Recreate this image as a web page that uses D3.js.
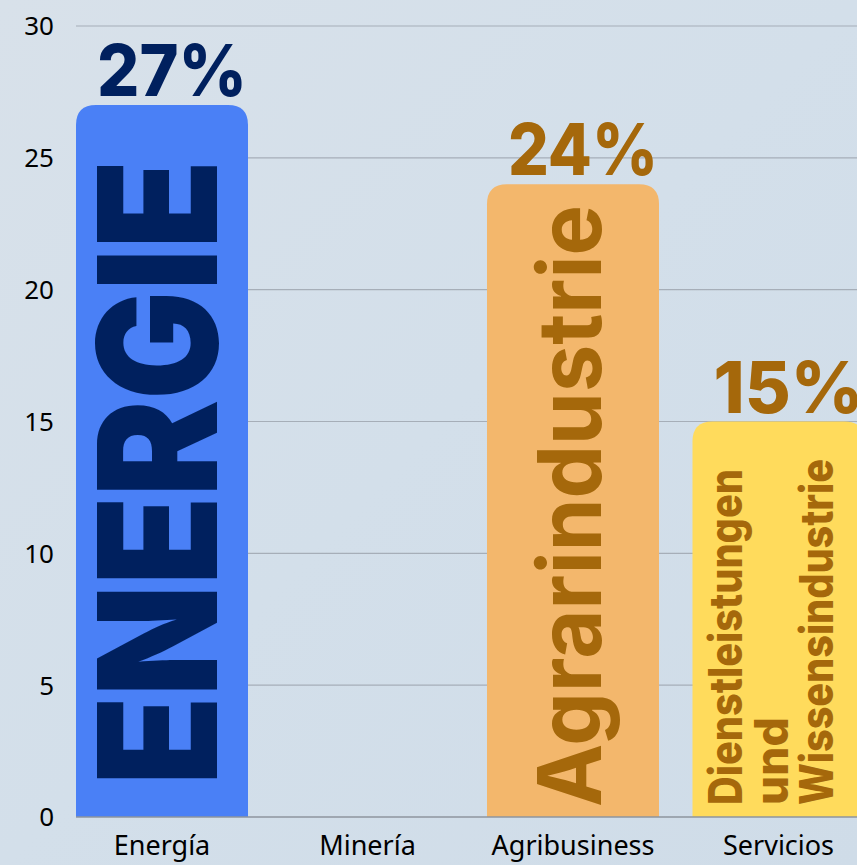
<!DOCTYPE html>
<html>
<head>
<meta charset="utf-8">
<script src="https://cdn.jsdelivr.net/npm/d3@7"></script>
<style>
html,body{margin:0;padding:0;background:#d5dfe9;}
svg{display:block;}
</style>
</head>
<body>
<svg id="chart" width="857" height="865"></svg>
<script>
const categories = ["Energía", "Minería", "Agribusiness", "Servicios"];
const values = [27, 0, 24, 15];
const valueLabels = ["27%", "", "24%", "15%"];
const innerLabels = [["ENERGIE"], [], ["Agrarindustrie"], ["Dienstleistungen", "und", "Wissensindustrie"]];
const barColors = ["#4a80f6", "none", "#f3b76c", "#ffdb5c"];
const textColors = ["#00205e", "none", "#a5680b", "#a5680b"];
const yTicks = [0, 5, 10, 15, 20, 25, 30];

const W = 857, H = 865;
const svg = d3.select("#chart");

// background
const defs = svg.append("defs");
const bg = defs.append("linearGradient").attr("id", "bg").attr("x1", "0").attr("y1", "0").attr("x2", "1").attr("y2", "1");
bg.append("stop").attr("offset", "0%").attr("stop-color", "#d8e1ea");
bg.append("stop").attr("offset", "50%").attr("stop-color", "#d3dfea");
bg.append("stop").attr("offset", "100%").attr("stop-color", "#cfdce8");
svg.append("rect").attr("width", W).attr("height", H).attr("fill", "url(#bg)");

const x = d3.scaleBand().domain(categories).range([76, 864.5]).paddingInner(0.163).paddingOuter(0);
const y = d3.scaleLinear().domain([0, 30]).range([817, 26]);

// grid
svg.append("g").selectAll("line").data(yTicks.filter(d => d > 0)).join("line")
  .attr("x1", 76).attr("x2", W)
  .attr("y1", d => y(d)).attr("y2", d => y(d))
  .attr("stroke", "#a6aeb8").attr("stroke-width", 1.2);

// y axis labels
const yAxis = d3.axisLeft(y).tickValues(yTicks).tickSize(0).tickPadding(0);
const gy = svg.append("g").attr("transform", "translate(54,0)").call(yAxis);
gy.select(".domain").remove();
gy.selectAll("text").attr("font-family", "'Noto Sans', sans-serif").attr("font-size", 26).attr("fill", "#000").attr("dy", "0.34em");

// bars with rounded top corners
const r = 20;
function barPath(d, i) {
  const x0 = x(categories[i]), w = x.bandwidth(), y0 = y(d), y1 = y(0);
  const rr = Math.min(r, (y1 - y0));
  return `M${x0},${y1}V${y0 + rr}Q${x0},${y0} ${x0 + rr},${y0}H${x0 + w - rr}Q${x0 + w},${y0} ${x0 + w},${y0 + rr}V${y1}Z`;
}
svg.append("g").selectAll("path").data(values).join("path")
  .attr("d", (d, i) => d > 0 ? barPath(d, i) : null)
  .attr("fill", (d, i) => barColors[i]);

// baseline
svg.append("line").attr("x1", 76).attr("x2", W).attr("y1", y(0)).attr("y2", y(0))
  .attr("stroke", "#8e959e").attr("stroke-width", 1.5);

// value labels
svg.append("g").selectAll("text").data(values).join("text")
  .attr("x", (d, i) => x(categories[i]) + x.bandwidth() / 2 + 10)
  .attr("y", d => y(d) - 9)
  .attr("text-anchor", "middle")
  .attr("font-family", "Inter, 'Noto Sans', sans-serif")
  .attr("font-weight", 800)
  .attr("font-size", 72)
  .attr("textLength", 150)
  .attr("lengthAdjust", "spacingAndGlyphs")
  .attr("fill", (d, i) => textColors[i])
  .text((d, i) => valueLabels[i]);

// inner rotated labels
const innerSpec = [
  {base: 217, start: 785, len: 625, size: 165, weight: 900, gap: 0},
  null,
  {base: 601, start: 807, len: 602, size: 88, weight: 700, gap: 0},
  {base: 742, start: 805, len: [336, 70, 346], size: 46, weight: 800, gap: 45.5}
];
innerLabels.forEach((lines, i) => {
  const s = innerSpec[i];
  if (!s) return;
  lines.forEach((t, k) => {
    const len = Array.isArray(s.len) ? s.len[k] : s.len;
    const bx = s.base + k * s.gap;
    const el = svg.append("text")
      .attr("transform", `translate(${bx},${s.start}) rotate(-90)`)
      .attr("font-family", "Inter, 'Noto Sans', sans-serif")
      .attr("font-weight", s.weight)
      .attr("font-size", s.size)
      .attr("fill", textColors[i])
      .text(t);
    if (t !== "und") el.attr("textLength", len).attr("lengthAdjust", "spacingAndGlyphs");
  });
});

// x axis labels
const xAxis = d3.axisBottom(x).tickSize(0).tickPadding(0);
const gx = svg.append("g").attr("transform", `translate(0,${y(0)})`).call(xAxis);
gx.select(".domain").remove();
gx.selectAll("text").attr("font-family", "'Noto Sans', sans-serif").attr("font-size", 27)
  .attr("fill", "#000").attr("dy", "1.4em");
</script>
</body>
</html>
